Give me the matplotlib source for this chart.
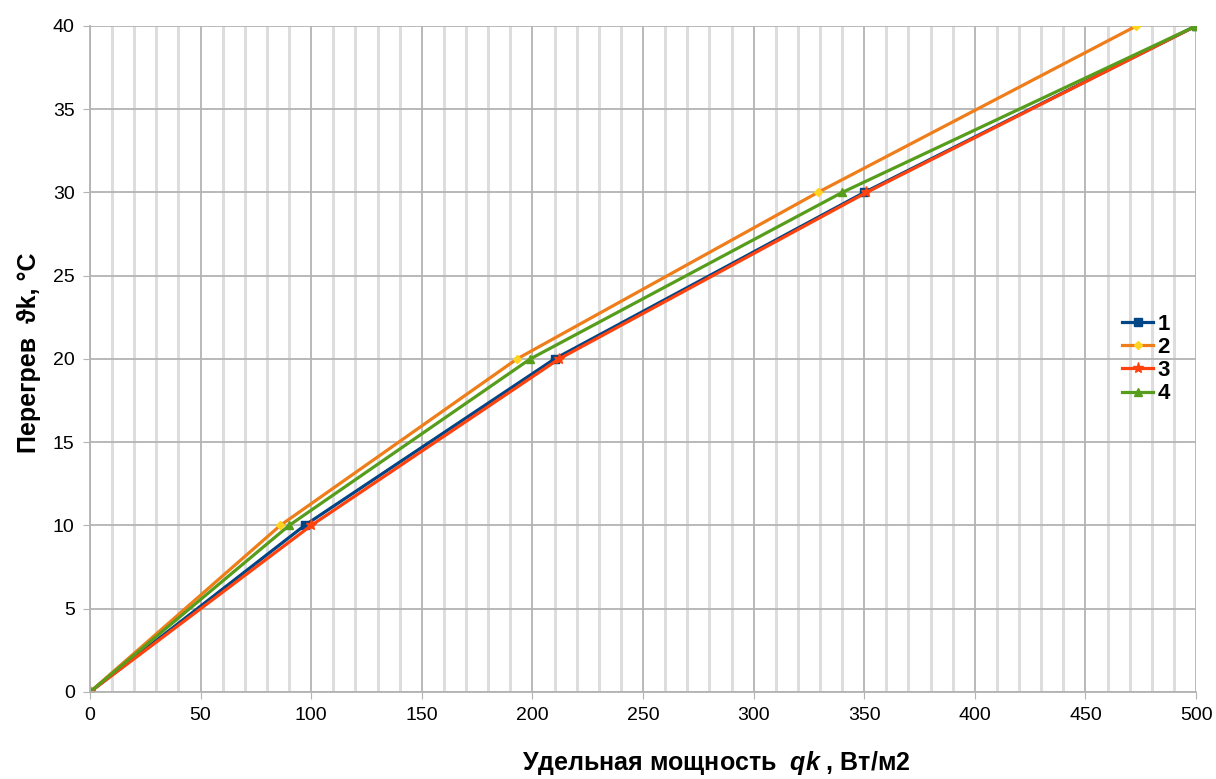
import matplotlib.pyplot as plt
import numpy as np

plt.rcParams['font.family'] = ['Liberation Sans', 'DejaVu Sans']
plt.rcParams['mathtext.fontset'] = 'custom'
plt.rcParams['mathtext.it'] = 'Liberation Sans:italic:bold'

# Superheat levels (same for every curve)
theta = [0, 10, 20, 30, 40]

# Specific power for each curve
q1 = [0, 97, 210, 350, 500]
q2 = [0, 86, 193, 329, 473]
q3 = [0, 100, 212, 351, 500]
q4 = [0, 90, 199, 340, 500]

names = ["1", "2", "3", "4"]

fig = plt.figure(figsize=(12.16, 7.79), dpi=100)
ax = fig.add_axes([0.074, 0.1117, 0.9096, 0.855])

ax.plot(q1, theta, color="#004586", lw=2.3, marker="s", ms=6, label=names[0])
ax.plot(q2, theta, color="#ef7d1a", lw=2.3, marker="D", ms=4,
        mfc="#ffd320", mec="#ffd320", label=names[1])
ax.plot(q3, theta, color="#ff420e", lw=2.3, marker="*", ms=8, label=names[2])
ax.plot(q4, theta, color="#579d1c", lw=2.3, marker="^", ms=6, label=names[3])

ax.set_xlim(0, 500)
ax.set_ylim(0, 40)
ax.set_xticks(np.arange(0, 501, 50))
ax.set_xticks(np.arange(0, 501, 10), minor=True)
ax.set_yticks(np.arange(0, 41, 5))

ax.grid(which="major", axis="both", color="#b3b3b3", lw=1.3)
ax.grid(which="minor", axis="x", color="#dddddd", lw=2.2)
ax.set_axisbelow(True)

for s in ["top", "right"]:
    ax.spines[s].set_visible(False)
for s in ["left", "bottom"]:
    ax.spines[s].set_color("#b3b3b3")
    ax.spines[s].set_linewidth(1.3)

ax.tick_params(which="major", length=5, color="#b3b3b3", labelsize=14, pad=6)
ax.tick_params(which="minor", length=0)

ax.set_xlabel("Удельная мощность  $qk$ , Вт/м2", fontsize=18, fontweight="bold")
ax.set_ylabel("Перегрев  ϑk, °C", fontsize=18, fontweight="bold")
ax.xaxis.set_label_coords(0.566, -0.085)
ax.yaxis.set_label_coords(-0.044, 0.51)

ax.legend(loc="center left", bbox_to_anchor=(0.915, 0.5), frameon=False,
          handlelength=1.4, handletextpad=0.2, labelspacing=0.1,
          prop={"weight": "bold", "size": 16})

fig.savefig("out.png", dpi=100)
